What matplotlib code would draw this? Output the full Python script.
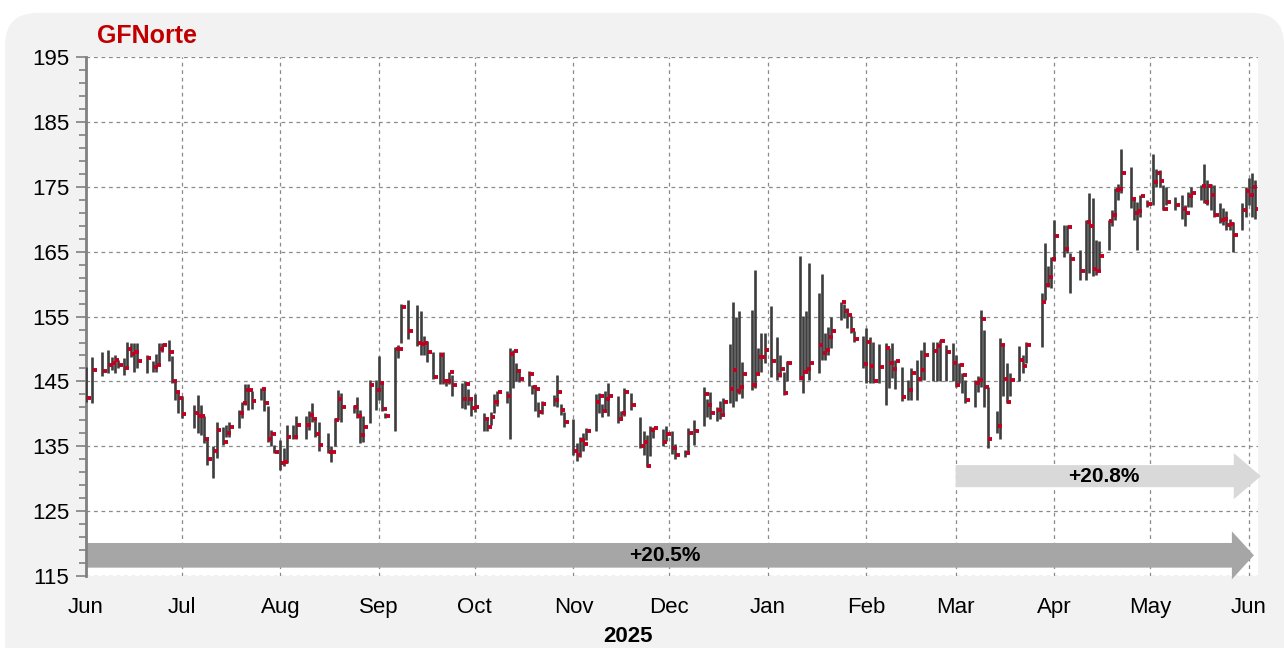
import pandas as pd
import matplotlib
matplotlib.use('Agg')
import matplotlib.pyplot as plt
import matplotlib.dates as mdates
from matplotlib.patches import FancyArrow, FancyBboxPatch

plt.rcParams['font.family'] = ['Liberation Sans', 'DejaVu Sans']

# days counted from 2024-06-01, one entry per trading session
days = [0, 2, 5, 7, 8, 9, 10, 12, 13, 14, 15, 16, 19, 21, 22, 23, 24, 26, 27, 28,
        29, 30, 34, 35, 36, 37, 38, 40, 41, 43, 44, 45, 48, 49, 50, 51,
        52, 55, 56, 57, 58, 59, 61, 62, 63, 65, 66, 69, 70, 71, 72, 73, 76, 77, 78,
        79, 80, 84, 85, 86, 87, 89, 91, 92, 93, 94, 97, 98, 99, 101,
        104, 105, 106, 107, 109, 111, 112, 113, 114, 115, 118, 119, 120, 121, 122,
        125, 126, 127, 128, 129, 132, 133, 134, 135, 136, 139, 140, 141, 142, 143,
        147, 148, 149, 150, 153, 154, 155, 156, 157, 160, 161, 162, 163, 164,
        167, 168, 169, 171, 174, 175, 176, 177, 178, 181, 182, 184, 185, 188, 189,
        191, 194, 195, 196, 198, 199, 200, 202, 203, 204, 205, 206,
        209, 210, 211, 212, 213, 215, 217, 218, 219, 220, 224, 225, 226, 227,
        230, 231, 232, 233, 234, 237, 238, 239, 240, 241,
        244, 245, 246, 247, 249, 251, 252, 253, 254, 256, 258, 259, 261, 262, 263,
        266, 267, 268, 270, 272,
        273, 274, 275, 276, 279, 280, 281, 282, 283, 286, 287, 288, 289, 290,
        293, 294, 295,
        300, 301, 302, 303, 304, 307, 308, 309, 312, 314, 315, 316, 317, 318,
        321, 322, 323, 324, 325, 328, 329, 330, 331, 333,
        335, 336, 337, 338, 339, 342, 344, 345, 346, 347, 350, 351, 352, 353, 354,
        356, 357, 358, 359, 360, 363, 364, 365, 366, 367]

close = [142.5, 146.8, 146.6, 147.5, 147.8, 148.3, 147.5, 147.1, 150.0, 149.2, 149.6, 148.2, 148.6, 147.2, 147.5, 150.0, 150.6, 149.6, 145.1, 143.4,
         142.5, 140.0, 140.2, 139.7, 139.6, 136.1, 133.1, 134.3, 137.5, 135.6, 137.1, 138.0, 140.2, 141.7, 143.7, 143.7,
         142.0, 143.8, 141.7, 136.1, 136.9, 134.1, 132.4, 132.6, 136.4, 136.4, 138.3, 138.3, 139.8, 139.2, 136.9, 135.2, 134.1, 134.1, 139.1,
         142.3, 141.1, 141.1, 139.6, 136.7, 138.0, 144.5, 143.7, 144.8, 140.8, 139.7, 150.0, 150.0, 156.5, 152.8,
         150.9, 150.8, 150.9, 149.6, 145.7, 149.1, 145.1, 145.1, 146.4, 144.5, 142.3, 144.6, 142.3, 140.9, 141.1,
         139.2, 138.0, 139.5, 141.9, 143.3, 142.7, 149.3, 149.7, 146.6, 145.4, 146.2, 144.2, 143.9, 140.3, 141.5,
         142.1, 143.3, 140.6, 138.8, 134.3, 133.6, 136.0, 135.4, 137.4, 141.9, 142.7, 140.5, 142.3, 142.7,
         139.2, 140.1, 143.4, 141.4, 135.1, 135.6, 132.0, 137.5, 137.8, 135.7, 136.9, 134.8, 133.6, 134.0, 137.1,
         137.4, 143.1, 141.4, 140.2, 140.6, 139.8, 141.9, 143.8, 146.8, 143.6, 144.1, 146.2,
         144.4, 146.1, 148.8, 148.7, 149.9, 148.1, 146.0, 146.9, 143.2, 147.9, 145.6, 146.5, 146.9, 147.9,
         150.6, 149.4, 149.9, 151.8, 152.8, 157.2, 155.9, 155.2, 153.0, 151.5,
         147.7, 151.1, 147.4, 145.1, 147.3, 150.1, 147.9, 146.9, 148.1, 142.6, 143.7, 146.3, 145.4, 146.8, 149.1,
         149.7, 150.5, 151.2, 149.5, 147.9,
         144.5, 147.5, 146.0, 142.2, 144.7, 145.2, 154.6, 144.1, 136.2, 138.2, 150.6, 145.4, 141.8, 145.2,
         148.3, 147.4, 150.6,
         157.3, 159.9, 161.1, 163.9, 167.4, 165.4, 168.8, 163.9, 162.0, 169.5, 169.0, 162.3, 162.0, 164.3,
         169.7, 170.6, 174.5, 174.7, 177.2, 173.1, 171.0, 171.3, 173.6, 172.3,
         175.8, 177.1, 175.9, 171.6, 172.6, 172.2, 171.5, 171.0, 173.6, 174.0, 175.1, 172.7, 175.1, 173.7, 170.7,
         169.9, 170.1, 169.1, 169.3, 167.6, 171.4, 174.4, 173.8, 174.9, 171.6]

high = [147.2, 148.7, 149.5, 149.9, 148.8, 149.1, 148.3, 148.6, 151.1, 151.0, 151.0, 151.0, 149.1, 148.2, 149.3, 151.0, 151.0, 151.4, 148.9, 145.1,
        143.4, 142.8, 141.4, 142.9, 141.4, 139.6, 136.2, 135.0, 138.8, 138.0, 138.3, 138.8, 140.6, 141.9, 144.6, 144.6,
        143.6, 144.0, 143.7, 141.2, 137.5, 135.2, 136.0, 134.7, 138.3, 138.3, 139.7, 139.7, 140.4, 141.7, 139.1, 138.8, 137.0, 135.1, 139.3,
        143.7, 143.2, 141.4, 142.6, 140.6, 139.6, 145.2, 145.2, 148.9, 144.8, 140.1, 150.3, 150.6, 157.0, 157.5,
        156.8, 155.8, 152.0, 151.2, 149.6, 149.5, 149.5, 145.4, 146.5, 146.0, 144.8, 145.0, 143.8, 142.1, 143.1,
        140.2, 139.0, 140.3, 143.0, 143.6, 143.5, 150.2, 149.9, 147.9, 146.6, 146.6, 144.5, 144.3, 141.9, 142.0,
        142.9, 146.0, 141.5, 140.3, 139.2, 135.5, 136.4, 137.0, 137.8, 143.1, 143.2, 141.5, 143.5, 144.7,
        142.7, 140.5, 144.0, 143.2, 139.5, 137.3, 136.8, 138.2, 138.0, 137.7, 138.2, 137.4, 135.4, 134.5, 137.8,
        139.0, 144.2, 142.3, 143.3, 141.0, 142.0, 142.5, 150.7, 157.2, 154.9, 155.8, 148.0,
        156.0, 162.1, 150.1, 152.5, 152.4, 156.6, 151.8, 149.0, 146.4, 148.1, 164.3, 155.1, 155.8, 163.3,
        158.6, 161.5, 152.4, 153.4, 155.0, 157.3, 157.0, 156.3, 155.1, 152.7,
        152.0, 153.3, 151.9, 151.1, 150.8, 151.0, 150.1, 151.0, 148.3, 147.3, 145.2, 147.0, 148.3, 149.9, 151.1,
        151.1, 151.1, 151.4, 150.6, 150.9,
        149.1, 147.8, 146.3, 145.2, 145.2, 145.9, 156.0, 152.9, 144.2, 140.4, 151.7, 150.4, 147.9, 146.3,
        150.5, 149.1, 151.1,
        158.6, 166.3, 162.8, 164.2, 169.9, 169.1, 169.1, 164.8, 165.3, 169.9, 174.0, 173.2, 166.8, 166.6,
        169.9, 171.4, 174.8, 175.5, 180.9, 178.0, 173.5, 172.7, 173.7, 173.0,
        180.0, 177.7, 177.6, 175.3, 175.0, 173.5, 173.7, 172.2, 174.2, 175.0, 175.3, 178.5, 176.0, 175.5, 175.3,
        172.5, 171.7, 171.2, 170.1, 169.6, 172.5, 175.0, 176.4, 177.1, 176.0]

low = [141.9, 141.6, 145.9, 146.3, 146.8, 146.3, 147.0, 146.0, 147.0, 148.8, 146.5, 147.0, 146.3, 146.5, 146.5, 147.5, 149.6, 148.1, 144.7, 142.1,
       140.2, 139.3, 137.8, 137.0, 136.8, 135.5, 132.1, 130.1, 133.2, 135.2, 136.5, 136.5, 137.8, 139.3, 141.4, 140.6,
       140.8, 142.1, 140.5, 135.7, 135.0, 133.9, 131.4, 131.9, 132.4, 136.2, 136.2, 136.2, 137.5, 138.8, 136.5, 134.3, 133.9, 132.6, 135.0,
       139.0, 138.8, 140.1, 139.3, 135.5, 135.7, 138.6, 140.6, 142.1, 140.4, 139.3, 137.3, 148.6, 150.9, 151.5,
       150.5, 149.0, 149.0, 148.0, 145.3, 144.6, 144.6, 144.3, 144.6, 142.8, 140.9, 140.8, 141.4, 139.6, 140.3,
       137.3, 137.3, 138.3, 140.2, 141.2, 141.7, 136.1, 144.0, 145.0, 144.9, 144.3, 143.0, 140.5, 139.5, 140.0,
       141.2, 141.0, 139.8, 138.0, 133.6, 132.8, 133.3, 134.3, 136.0, 137.4, 140.1, 139.5, 140.3, 139.7,
       138.6, 139.0, 139.7, 140.6, 134.7, 133.7, 131.8, 133.5, 136.3, 135.0, 135.8, 133.8, 133.1, 133.3, 134.1,
       135.2, 138.1, 139.5, 139.2, 138.9, 139.2, 140.0, 141.6, 141.0, 142.0, 143.0, 142.5,
       143.7, 144.0, 146.3, 146.5, 147.8, 145.7, 145.2, 145.7, 142.9, 145.0, 145.2, 143.2, 146.3, 145.2,
       146.3, 148.3, 148.3, 149.1, 150.1, 154.5, 154.7, 153.2, 152.4, 151.1,
       147.1, 144.7, 144.7, 144.7, 144.8, 141.4, 144.0, 145.6, 143.9, 142.0, 142.2, 142.2, 142.2, 145.2, 145.2,
       145.0, 145.0, 145.0, 145.0, 145.0,
       144.2, 144.7, 143.2, 141.6, 141.1, 143.4, 144.2, 141.1, 134.7, 137.0, 136.1, 142.7, 141.6, 142.7,
       145.0, 146.3, 147.8,
       150.3, 157.6, 159.5, 159.4, 163.5, 164.2, 164.8, 158.7, 160.6, 160.6, 161.7, 161.2, 161.4, 161.9,
       165.3, 168.9, 169.9, 173.0, 174.0, 171.7, 169.9, 165.2, 170.4, 171.9,
       172.2, 175.0, 175.0, 171.4, 172.2, 171.4, 170.1, 168.9, 171.9, 171.9, 173.0, 172.5, 172.2, 171.4, 170.4,
       169.4, 169.1, 168.3, 168.3, 165.0, 168.3, 170.4, 172.2, 170.4, 170.1]

months = ['Jun', 'Jul', 'Aug', 'Sep', 'Oct', 'Nov', 'Dec', 'Jan', 'Feb', 'Mar', 'Apr', 'May', 'Jun']
labels = ['+20.5%', '+20.8%']

start = pd.Timestamp('2024-06-01')
dates = start + pd.to_timedelta(days, unit='D')
x = mdates.date2num(dates)

fig = plt.figure(figsize=(12.84, 6.48), dpi=100, facecolor='white')
panel = FancyBboxPatch((0.004, -0.05), 0.996, 1.03, boxstyle='round,pad=0,rounding_size=0.025',
                       mutation_aspect=1284 / 648, transform=fig.transFigure,
                       facecolor='#f2f2f2', edgecolor='none', zorder=-10)
fig.patches.append(panel)

ax = fig.add_axes([0.067, 0.111, 0.913, 0.801])
ax.set_facecolor('white')

x0 = mdates.date2num(pd.Timestamp('2024-06-01'))
x1 = mdates.date2num(pd.Timestamp('2025-06-04'))
ax.set_xlim(x0, x1)
ax.set_ylim(115, 195)

# high-low bars and close ticks
ax.vlines(x, low, high, color='#3d3d3d', lw=1.9, zorder=3)
ax.hlines(close, x + 0.2, x + 1.5, color='#c00020', lw=2.8, zorder=4)

# arrows
mar = mdates.date2num(pd.Timestamp('2025-03-01'))
ax.add_patch(FancyArrow(x0, 118.2, 366.6, 0, width=3.8, head_width=7.4, head_length=6.9,
                        length_includes_head=True, color='#a6a6a6', lw=0, clip_on=False, zorder=2))
ax.add_patch(FancyArrow(mar, 130.4, 368.8 - 273, 0, width=3.4, head_width=7.1, head_length=8.5,
                        length_includes_head=True, color='#d9d9d9', lw=0, clip_on=False, zorder=2))
ax.text(x0 + 181.6, 118.2, labels[0], ha='center', va='center', fontsize=15, fontweight='bold', zorder=5)
ax.text(x0 + 319.5, 130.4, labels[1], ha='center', va='center', fontsize=15, fontweight='bold', zorder=5)

# axes styling
ticks = pd.date_range('2024-06-01', '2025-06-01', freq='MS')
ax.set_xticks(mdates.date2num(ticks))
ax.set_xticklabels(months, fontsize=16)
ax.tick_params(axis='x', length=0, pad=15)
ax.set_yticks(range(115, 196, 10))
ax.set_yticks(range(115, 196, 2), minor=True)
ax.tick_params(axis='y', which='major', labelsize=16, length=7, width=1.2, color='#808080', pad=5)
ax.tick_params(axis='y', which='minor', length=5, width=1.2, color='#808080')
ax.grid(True, which='major', color='#8a8a8a', ls=(0, (3, 3)), lw=0.9)
for s in ['top', 'right', 'bottom']:
    ax.spines[s].set_visible(False)
ax.spines['left'].set_color('#808080')
ax.spines['left'].set_linewidth(2)

fig.text(0.0755, 0.945, 'GFNorte', color='#c00000', fontsize=18, fontweight='bold', va='center')
fig.text(0.489, 0.017, '2025', fontsize=16, fontweight='bold', ha='center', va='center')

fig.savefig('out.png', dpi=100, facecolor=fig.get_facecolor())
